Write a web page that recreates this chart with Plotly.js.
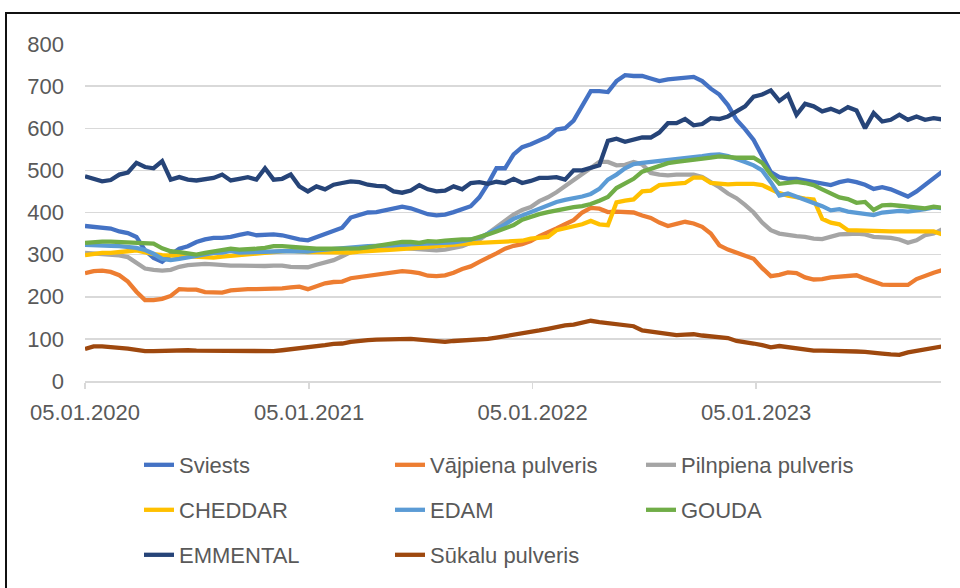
<!DOCTYPE html>
<html><head><meta charset="utf-8">
<script src="https://cdn.plot.ly/plotly-3.0.1.min.js"></script>
<style>
html,body{margin:0;padding:0;background:#fff;overflow:hidden;}
#wrap{position:relative;width:960px;height:588px;}
#chart{width:960px;height:588px;}
#frame{position:absolute;left:5px;top:12px;width:1000px;height:1000px;border-left:2px solid #111;border-top:2px solid #111;pointer-events:none;}
</style></head><body>
<div id="wrap"><div id="chart"></div><div id="frame"></div></div>
<script>
// Biweekly observations starting 05.01.2020
const startDate = '2020-01-05';
const stepDays = 14;

const seriesNames = ['Sviests','Vājpiena pulveris','Pilnpiena pulveris','CHEDDAR','EDAM','GOUDA','EMMENTAL','Sūkalu pulveris'];

const sviests = [368,366,364,362,355,351,342,310,292,283, 300,314,320,330,336,340,340,342,347,351,
 346,348,348,346,340,336,334,342,350,358, 364,388,394,400,401,405,410,414,410,402,
 396,393,395,401,408,415,436,468,505,505, 538,555,562,570,580,597,600,618,652,688,
 688,686,712,726,724,724,718,712,716,718, 722,722,712,694,680,655,620,598,572,536,
 496,484,480,480,476,474,468,465,472,476, 472,466,456,460,455,447,438,450,465,482, 497];

const vajpiena = [256,261,262,259,251,236,212,192,192,195, 202,218,217,217,211,210,210,215,217,218,
 218,218,219,220,222,224,218,224,232,235, 236,244,247,249,253,256,259,261,259,256,
 250,249,251,257,266,272,283,292,303,314, 321,325,332,344,352,362,372,382,400,411,
 409,401,402,402,400,393,387,376,368,373, 378,374,366,350,322,312,305,297,290,268,
 249,252,258,256,246,241,242,246,248,250, 251,243,236,229,228,227,228,242,250,257, 263];

const pilnpiena = [304,303,302,300,298,294,280,267,264,262, 264,271,275,277,278,277,275,274,274,273,
 272,273,274,274,271,270,270,276,282,287, 296,306,311,312,312,313,315,316,314,312,
 310,310,312,315,320,328,335,350,365,380, 395,406,413,427,436,448,462,476,490,507,
 520,520,512,513,520,514,494,490,488,490, 490,490,484,472,460,445,434,418,400,376,
 358,350,346,344,342,338,337,342,348,349, 350,348,342,341,340,336,328,334,346,350, 360];

const cheddar = [299,302,304,304,305,308,310,305,301,299, 298,296,295,294,293,293,295,297,299,302,
 304,305,306,308,309,307,306,306,306,305, 304,305,307,309,310,311,312,313,314,316,
 318,320,322,325,326,327,328,329,330,331, 333,333,338,341,342,358,363,367,372,380,
 372,370,424,428,431,450,452,465,467,468, 470,483,483,470,468,467,468,469,468,465,
 455,446,440,436,433,431,385,376,372,358, 357,357,357,356,355,355,355,355,355,355, 348];

const edam = [323,323,322,321,320,318,316,311,302,290, 287,290,294,296,302,304,305,309,305,306,
 307,308,307,308,308,307,307,310,312,314, 315,316,318,320,321,322,323,324,324,326,
 326,326,328,329,332,335,340,350,360,372, 385,393,400,408,415,425,430,433,438,444,
 456,478,490,505,515,518,520,522,524,526, 528,531,534,537,538,534,528,520,512,500,
 472,440,445,438,431,424,415,405,408,402, 400,396,394,400,402,404,402,404,408,412, 410];

const gouda = [328,330,331,331,330,328,326,326,326,315, 308,306,304,300,304,308,311,314,312,312,
 314,316,320,320,318,317,315,314,314,314, 314,314,315,317,320,322,326,330,330,328,
 332,331,333,335,336,336,341,348,355,362, 370,383,390,396,401,405,410,413,415,420,
 428,437,458,470,480,497,504,512,517,520, 522,524,528,530,533,531,530,530,530,518,
 490,468,471,473,470,465,455,446,436,432, 423,425,406,417,418,416,414,412,410,414, 411];

const emmental = [486,481,474,477,490,495,518,508,505,522, 478,484,478,476,478,482,490,476,480,484,
 478,505,478,480,490,462,450,462,455,466, 470,474,472,466,463,462,450,447,452,465,
 455,450,452,462,455,470,472,468,473,470, 480,470,475,482,482,484,478,500,500,505,
 512,570,575,568,572,578,578,590,612,612, 622,607,610,624,622,628,640,652,675,680,
 690,665,680,632,658,652,640,646,638,650, 642,600,636,616,620,632,620,628,620,624, 621];

const sukalu = [76,82,82,81,80,77,74,71,71,72, 73,73,73,72,72,72,70,70,70,71,
 70,70,71,73,75,77,79,81,85,88, 89,93,96,97,98,99,100,101,100,98,
 96,93,93,95,96,97,98,100,103,106, 110,112,115,120,124,129,132,134,138,143,
 140,137,135,131,130,120,117,113,110,109, 110,111,108,106,104,102,95,93,89,85,
 80,83,80,76,74,72,72,72,72,71, 70,69,66,65,63,62,68,72,75,79, 82];

const tickDates = ['2020-01-05','2021-01-05','2022-01-05','2023-01-05'];
const tickLabels = ['05.01.2020','05.01.2021','05.01.2022','05.01.2023'];

const colors = ['#4472C4','#ED7D31','#A5A5A5','#FFC000','#5B9BD5','#70AD47','#264478','#9E480E'];
const legendIds = ['legend','legend','legend','legend2','legend2','legend2','legend3','legend3'];
const allSeries = [sviests, vajpiena, pilnpiena, cheddar, edam, gouda, emmental, sukalu];

const t0 = new Date(startDate + 'T00:00:00Z').getTime();
const dates = sviests.map((_, i) => new Date(t0 + i * stepDays * 86400000).toISOString().slice(0, 10));

const traces = allSeries.map((vals, k) => ({
  type: 'scatter', mode: 'lines', x: dates, y: vals, name: seriesNames[k],
  line: {color: colors[k], width: 4.3}, legend: legendIds[k], hoverinfo: 'skip'
}));

const font = {family: 'Liberation Sans, Arial, sans-serif', size: 22, color: '#595959'};
const plotTop = 44, plotBottom = 381, plotLeft = 85, plotRight = 941;
const ph = plotBottom - plotTop, pw = plotRight - plotLeft;
function legendBox(rowY) {
  return {orientation: 'h', x: (139 - plotLeft) / pw, xanchor: 'left', y: (plotBottom - rowY) / ph, yanchor: 'middle',
    font: font, entrywidth: 206, entrywidthmode: 'pixels', bgcolor: 'rgba(0,0,0,0)', borderwidth: 0};
}

const layout = {
  width: 960, height: 588,
  margin: {l: plotLeft, r: 960 - plotRight, t: plotTop, b: 588 - plotBottom},
  paper_bgcolor: '#fff', plot_bgcolor: '#fff',
  font: font,
  showlegend: true,
  xaxis: {type: 'date', range: ['2020-01-05', '2023-11-03'], tickvals: tickDates, ticktext: tickLabels,
    showgrid: false, showline: true, linecolor: '#D9D9D9', linewidth: 1.5, ticks: 'outside', ticklen: 6,
    tickcolor: '#D9D9D9', tickwidth: 1.5, tickfont: font, ticklabelstandoff: 5, zeroline: false, fixedrange: true},
  yaxis: {range: [0, 800], dtick: 100, tick0: 0, showgrid: true, gridcolor: '#D9D9D9', gridwidth: 1.5,
    zeroline: false, showline: false, ticks: '', tickfont: font, ticklabelstandoff: 20, fixedrange: true},
  legend: legendBox(465),
  legend2: legendBox(510),
  legend3: legendBox(555)
};

Plotly.newPlot('chart', traces, layout, {displayModeBar: false, staticPlot: true});
</script>
</body></html>
